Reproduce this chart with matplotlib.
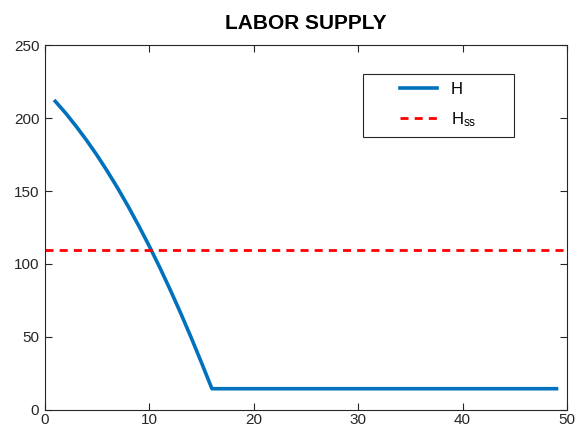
import matplotlib
matplotlib.use("Agg")
import matplotlib.pyplot as plt
from matplotlib.patches import Rectangle

plt.rcParams['font.family'] = ['Liberation Sans', 'DejaVu Sans']
plt.rcParams['mathtext.fontset'] = 'custom'
plt.rcParams['mathtext.rm'] = 'Liberation Sans'
plt.rcParams['mathtext.it'] = 'Liberation Sans'

# hours worked per period
t = list(range(1, 50))
H = [211.6, 203.4, 194.4, 184.8, 174.5, 163.4, 151.7, 139.2, 126.0, 112.2,
     97.6, 82.3, 66.3, 49.6, 32.2, 14.3] + [14.3] * 33
H_ss = 109.4

fig = plt.figure(figsize=(5.75, 4.32), dpi=100)
ax = fig.add_axes([0.078, 0.052, 0.908, 0.843])

ax.plot(t, H, color='#0072BD', lw=2.6, label='H')
ax.axhline(H_ss, color='red', lw=2.0, ls=(0, (2.9, 2.2)), label=r'H$_{\rm ss}$')

ax.set_xlim(0, 50)
ax.set_ylim(0, 250)
ax.set_xticks(range(0, 51, 10))
ax.set_yticks(range(0, 251, 50))

axcol = '#262626'
for s in ax.spines.values():
    s.set_color(axcol)
    s.set_linewidth(0.8)
ax.tick_params(direction='in', length=5, width=0.8, color=axcol,
               labelsize=11, labelcolor=axcol, top=True, right=True)
ax.tick_params(axis='x', pad=2.5)
ax.tick_params(axis='y', pad=4)

ax.set_title('LABOR SUPPLY', fontsize=15, fontweight='bold', pad=12)

# legend entries without frame, box drawn separately
leg = ax.legend(loc='center left', bbox_to_anchor=(0.680, 0.836), borderaxespad=0,
                borderpad=0, frameon=False, fontsize=12,
                handlelength=2.2, labelspacing=0.8, handletextpad=0.85)
ax.add_patch(Rectangle((0.609, 0.748), 0.289, 0.173, transform=ax.transAxes,
                       facecolor='white', edgecolor=axcol, lw=0.8, zorder=4))
leg.set_zorder(5)

fig.savefig('out.png', dpi=100)
